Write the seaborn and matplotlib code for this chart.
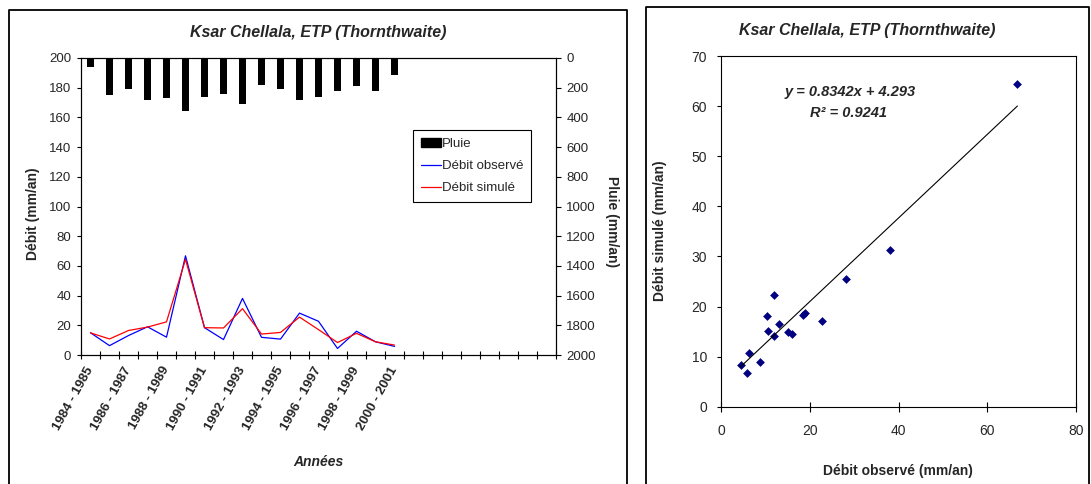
import numpy as np
import pandas as pd
import matplotlib
matplotlib.use("Agg")
import matplotlib.pyplot as plt
import seaborn as sns
from matplotlib.lines import Line2D
from matplotlib.patches import Patch
from matplotlib import font_manager as fm

# ---------------- data ----------------
periods = ["1984 - 1985", "1985 - 1986", "1986 - 1987", "1987 - 1988", "1988 - 1989",
           "1989 - 1990", "1990 - 1991", "1991 - 1992", "1992 - 1993", "1993 - 1994",
           "1994 - 1995", "1995 - 1996", "1996 - 1997", "1997 - 1998", "1998 - 1999",
           "1999 - 2000", "2000 - 2001"]
rain = [59, 247, 207, 283, 269, 355, 265, 242, 310, 180, 211, 283, 261, 224, 189, 224, 112]
q_obs = [15.0, 6.3, 13.1, 19.0, 12.0, 66.8, 18.4, 10.4, 38.1, 11.9, 10.7, 28.2, 22.7, 4.4, 16.0, 8.9, 5.8]
q_sim = [14.9, 10.8, 16.5, 18.8, 22.3, 64.4, 18.4, 18.2, 31.2, 14.1, 15.2, 25.5, 17.1, 8.4, 14.6, 8.9, 6.7]
n_slots = 25
slope, intercept, r2 = 0.8342, 4.293, 0.9241
title = "Ksar Chellala, ETP (Thornthwaite)"

# ---------------- style ----------------
sns.set_theme(style="ticks")
plt.rcParams["font.family"] = ["Liberation Sans", "DejaVu Sans"]
plt.rcParams["axes.linewidth"] = 0.8
names = {f.name for f in fm.fontManager.ttflist}
title_family = ["Liberation Sans Narrow", "Liberation Sans"] if "Liberation Sans Narrow" in names else ["Liberation Sans"]
title_size = 13 if "Liberation Sans Narrow" in names else 11.5

W, H = 1091, 484
fig = plt.figure(figsize=(W / 100, H / 100), dpi=100)
fx = lambda px: px / W
fy = lambda py: 1 - py / H

ax1 = fig.add_axes([fx(81), fy(355), (556 - 81) / W, (355 - 58) / H])
ax3 = fig.add_axes([fx(721), fy(406.7), (1076 - 721) / W, (406.7 - 56) / H])

df = pd.DataFrame({"x": np.arange(len(periods)) + 0.5, "period": periods,
                   "rain": rain, "obs": q_obs, "sim": q_sim})

# ---------------- left chart ----------------
sns.lineplot(data=df, x="x", y="obs", color="#0000FF", lw=0.9, ax=ax1)
sns.lineplot(data=df, x="x", y="sim", color="#FF0000", lw=0.9, ax=ax1)
ax2 = ax1.twinx()
sns.barplot(data=df, x="x", y="rain", native_scale=True, color="black",
            saturation=1, width=0.42, ax=ax2, errorbar=None, linewidth=0)

ax1.set_xlim(0, n_slots)
ax1.set_ylim(0, 200)
ax2.set_ylim(2000, 0)
ax1.set_yticks(np.arange(0, 201, 20))
ax2.set_yticks(np.arange(0, 2001, 200))
ax1.set_xticks(np.arange(0, n_slots + 1))
ax1.set_xticklabels([])
ax1.set_xticks(df["x"].values[::2], minor=True)
ax1.set_xticklabels(periods[::2], minor=True, rotation=61, ha="right", va="center",
                    rotation_mode="anchor", fontweight="bold", fontsize=9.5)
ax1.tick_params(axis="x", which="major", direction="inout", length=6, width=0.8, color="black")
ax1.tick_params(axis="x", which="minor", length=0, pad=9)
ax1.tick_params(axis="y", direction="out", length=3, width=0.8, pad=4, labelsize=9.5, color="black")
ax2.tick_params(axis="y", direction="out", length=3.5, width=0.8, pad=4, labelsize=9.5, color="black")
for a in (ax1, ax2):
    a.set_xlabel("")
    a.set_ylabel("")
    for s in a.spines.values():
        s.set_visible(True)
        s.set_color("black")
        s.set_linewidth(0.8)

handles = [Patch(facecolor="black", edgecolor="black"),
           Line2D([], [], color="#0000FF", lw=0.9),
           Line2D([], [], color="#FF0000", lw=0.9)]
leg = ax2.legend(handles, ["Pluie", "Débit observé", "Débit simulé"],
                 loc="upper left", bbox_to_anchor=(fx(413), fy(130)),
                 bbox_transform=fig.transFigure, borderaxespad=0, fontsize=9.5,
                 handlelength=1.5, handletextpad=0.1, labelspacing=0.75,
                 borderpad=0.6, fancybox=False, framealpha=1)
leg.get_frame().set_edgecolor("black")
leg.get_frame().set_linewidth(0.8)

# ---------------- right chart ----------------
sns.scatterplot(x=q_obs, y=q_sim, marker="D", s=20, color="#000080",
                edgecolor="#000080", linewidth=0, ax=ax3)
xl = np.array([min(q_obs), max(q_obs)])
sns.lineplot(x=xl, y=slope * xl + intercept, color="black", lw=0.8, ax=ax3)
ax3.set_xlim(0, 80)
ax3.set_ylim(0, 70)
ax3.set_xticks(np.arange(0, 81, 20))
ax3.set_yticks(np.arange(0, 71, 10))
ax3.tick_params(axis="x", direction="inout", length=7, width=0.8, pad=9, labelsize=10, color="black")
ax3.tick_params(axis="y", direction="out", length=3, width=0.8, pad=7, labelsize=10, color="black")
for s in ax3.spines.values():
    s.set_visible(True)
    s.set_color("black")
    s.set_linewidth(0.8)

# ---------------- texts ----------------
fig.text(fx(318), fy(32), title, ha="center", va="center", family=title_family,
         fontsize=title_size, fontweight="bold", style="italic")
fig.text(fx(867), fy(31), title, ha="center", va="center", family=title_family,
         fontsize=title_size, fontweight="bold", style="italic")
fig.text(fx(33), fy(214), "Débit (mm/an)", rotation=90, ha="center", va="center",
         fontsize=10, fontweight="bold")
fig.text(fx(612), fy(222), "Pluie (mm/an)", rotation=270, ha="center", va="center",
         fontsize=10, fontweight="bold")
fig.text(fx(318), fy(462), "Années", ha="center", va="center", fontsize=10,
         fontweight="bold", style="italic")
fig.text(fx(898), fy(471), "Débit observé (mm/an)", ha="center", va="center",
         fontsize=10, fontweight="bold")
fig.text(fx(660), fy(231), "Débit simulé (mm/an)", rotation=90, ha="center", va="center",
         fontsize=10, fontweight="bold")
fig.text(fx(850), fy(92), f"y = {slope}x + {intercept}", ha="center", va="center",
         fontsize=10.5, fontweight="bold", style="italic")
fig.text(fx(849), fy(113), f"R² = {r2}", ha="center", va="center",
         fontsize=10.5, fontweight="bold", style="italic")

# ---------------- chart frames ----------------
fig.add_artist(Line2D([fx(9), fx(9), fx(627), fx(627)], [-0.01, fy(10), fy(10), -0.01],
                      transform=fig.transFigure, color="black", lw=1.3))
fig.add_artist(Line2D([fx(646), fx(646), fx(1089), fx(1089)], [-0.01, fy(7), fy(7), -0.01],
                      transform=fig.transFigure, color="black", lw=1.3))

fig.savefig("out.png", dpi=100)
